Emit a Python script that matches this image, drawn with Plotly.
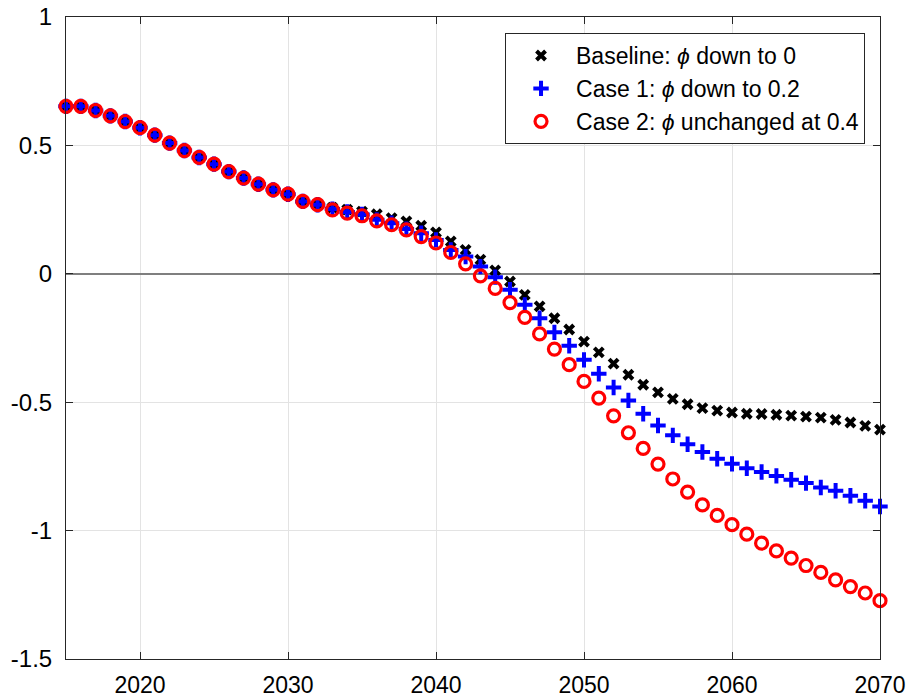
import plotly.graph_objects as go

# Projection years
years = list(range(2015, 2071))

# Common path shared by all three cases up to 2032
shared = [0.652, 0.652, 0.636, 0.615, 0.593, 0.569, 0.540, 0.509, 0.480, 0.453,
          0.427, 0.398, 0.373, 0.349, 0.327, 0.310, 0.282, 0.269]

# 2033-2070 for each case
baseline_tail = [0.258, 0.250, 0.242, 0.232, 0.217, 0.204, 0.187, 0.161, 0.126, 0.093,
                 0.055, 0.013, -0.030, -0.082, -0.127, -0.173, -0.217, -0.264, -0.306, -0.350,
                 -0.393, -0.432, -0.462, -0.487, -0.508, -0.523, -0.533, -0.540, -0.545, -0.546,
                 -0.549, -0.552, -0.556, -0.560, -0.569, -0.579, -0.592, -0.607]
case1_tail = [0.252, 0.241, 0.231, 0.210, 0.197, 0.174, 0.158, 0.132, 0.093, 0.067,
              0.028, -0.013, -0.062, -0.121, -0.173, -0.228, -0.280, -0.335, -0.389, -0.443,
              -0.493, -0.545, -0.591, -0.629, -0.664, -0.694, -0.720, -0.740, -0.757, -0.772,
              -0.787, -0.802, -0.815, -0.832, -0.845, -0.864, -0.884, -0.906]
case2_tail = [0.249, 0.236, 0.226, 0.206, 0.191, 0.171, 0.145, 0.120, 0.083, 0.039,
              -0.008, -0.057, -0.112, -0.170, -0.234, -0.293, -0.354, -0.419, -0.484, -0.553,
              -0.619, -0.680, -0.741, -0.799, -0.850, -0.900, -0.941, -0.977, -1.014, -1.049,
              -1.079, -1.107, -1.136, -1.163, -1.192, -1.218, -1.243, -1.273]

baseline = shared + baseline_tail
case1 = shared + case1_tail
case2 = shared + case2_tail

x_ticks = [2020, 2030, 2040, 2050, 2060, 2070]
y_ticks = [1, 0.5, 0, -0.5, -1, -1.5]
y_ticktext = ["1", "0.5", "0", "-0.5", "-1", "-1.5"]

names = ["Baseline: <i>ϕ</i> down to 0",
         "Case 1: <i>ϕ</i> down to 0.2",
         "Case 2: <i>ϕ</i> unchanged at 0.4"]

FONT = "Liberation Sans, Arial, sans-serif"
AXIS = "#262626"

fig = go.Figure()
fig.add_trace(go.Scatter(
    x=years, y=baseline, mode="markers", name=names[0], cliponaxis=False,
    marker=dict(symbol="x-thin", size=9, color="black",
                line=dict(color="black", width=4))))
fig.add_trace(go.Scatter(
    x=years, y=case1, mode="markers", name=names[1], cliponaxis=False,
    marker=dict(symbol="cross-thin", size=11, color="#0000ff",
                line=dict(color="#0000ff", width=4))))
fig.add_trace(go.Scatter(
    x=years, y=case2, mode="markers", name=names[2], cliponaxis=False,
    marker=dict(symbol="circle-open", size=12, color="#ff0000",
                line=dict(color="#ff0000", width=3.2))))

fig.update_layout(
    width=911, height=700,
    margin=dict(l=66, r=31, t=17, b=41, autoexpand=False),
    paper_bgcolor="white", plot_bgcolor="white",
    font=dict(family=FONT, size=24, color="black"),
    legend=dict(
        x=0.9816, y=0.975, xanchor="right", yanchor="top",
        bgcolor="white", bordercolor=AXIS, borderwidth=1,
        font=dict(family=FONT, size=23, color="black"),
        itemwidth=60, tracegroupgap=0),
)
fig.update_xaxes(
    range=[2015, 2070], tickvals=x_ticks, ticktext=[str(v) for v in x_ticks],
    automargin=False,
    showgrid=True, gridcolor="#e3e3e3", gridwidth=1,
    showline=True, linecolor=AXIS, linewidth=1, mirror="ticks",
    ticks="inside", ticklen=7, tickcolor=AXIS, ticklabelstandoff=5,
    zeroline=False, tickfont=dict(family=FONT, size=23, color="black"))
fig.update_yaxes(
    range=[-1.5, 1], tickvals=y_ticks, ticktext=y_ticktext,
    automargin=False,
    showgrid=True, gridcolor="#e3e3e3", gridwidth=1,
    showline=True, linecolor=AXIS, linewidth=1, mirror="ticks",
    ticks="inside", ticklen=7, tickcolor=AXIS, ticklabelstandoff=8,
    zeroline=True, zerolinecolor="#7f7f7f", zerolinewidth=2,
    tickfont=dict(family=FONT, size=24, color="black"))

fig.write_html("out.html")
